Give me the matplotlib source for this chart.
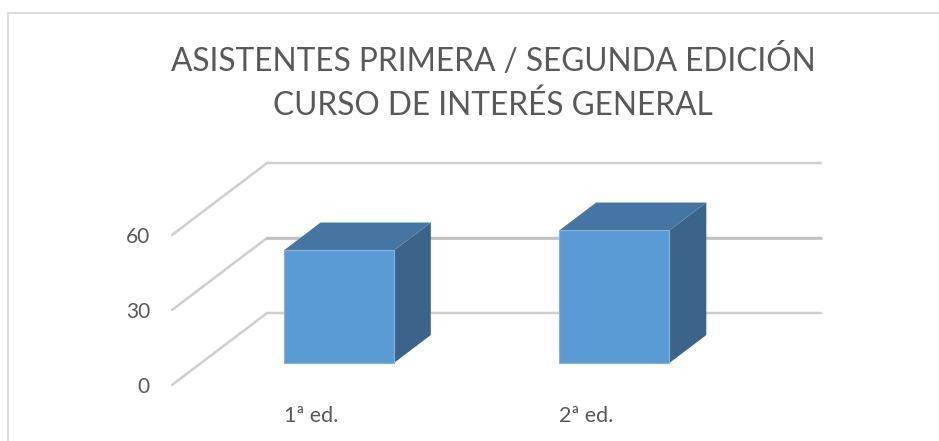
import matplotlib
matplotlib.use("Agg")
import matplotlib.pyplot as plt
from matplotlib.patches import Polygon

W, H = 939, 441

categories = ["1ª ed.", "2ª ed."]
values = [45, 53]
y_ticks = [0, 30, 60]
title = "ASISTENTES PRIMERA / SEGUNDA EDICIÓN\nCURSO DE INTERÉS GENERAL"

BAR_W = 0.4
DEPTH_X = 0.345   # x shift of the back wall, data units
DEPTH_Y = 28.8    # y shift of the back wall, data units
D0, D1 = 0.306, 0.694  # bar front and back, as a share of the depth
GRID_RIGHT = 1.51


def proj(x, y, d):
    return (x + d * DEPTH_X, y + d * DEPTH_Y)


plt.rcParams['font.family'] = ['Lato', 'DejaVu Sans']

fig = plt.figure(figsize=(W / 100, H / 100), dpi=100)
# front plane of the box, the walls hang out of it
ax = fig.add_axes([172 / W, 1 - 385 / H, 551 / W, 150 / H])
ax.set_xlim(-0.5, 1.5)
ax.set_ylim(0, 60)
ax.axis("off")

for v in y_ticks:
    pts = [proj(-0.5, v, 0), proj(-0.5, v, 1), proj(GRID_RIGHT, v, 1)]
    xs, ys = zip(*pts)
    ax.plot(xs, ys, color="#cfcfcf", lw=1.8, clip_on=False, zorder=1,
            solid_capstyle="round", solid_joinstyle="miter")
    ax.annotate(str(v), (-0.5, v), xytext=(-22, -2), textcoords="offset pixels", ha="right", va="center",
                fontsize=15, color="#595959")

# middle back line looks a bit darker in the picture
xs, ys = zip(proj(-0.5, 30, 1), proj(GRID_RIGHT, 30, 1))
ax.plot(xs, ys, color="#bfbfbf", lw=1.8, clip_on=False, zorder=1)

for i, v in enumerate(values):
    l, r = i - BAR_W / 2, i + BAR_W / 2
    front = [proj(l, 0, D0), proj(r, 0, D0), proj(r, v, D0), proj(l, v, D0)]
    top = [proj(l, v, D0), proj(r, v, D0), proj(r, v, D1), proj(l, v, D1)]
    side = [proj(r, 0, D0), proj(r, 0, D1), proj(r, v, D1), proj(r, v, D0)]
    ax.add_patch(Polygon(side, closed=True, fc="#3a6489", ec="none", clip_on=False, zorder=3))
    ax.add_patch(Polygon(top, closed=True, fc="#4575a3", ec="none", clip_on=False, zorder=3))
    ax.add_patch(Polygon(front, closed=True, fc="#5b9bd5", ec="#8ab0d2", lw=0.8, clip_on=False, zorder=4))
    ax.annotate(categories[i], proj(l, 0, D0), xytext=(0, -53), textcoords="offset pixels", ha="left",
                va="center", fontsize=15.5, color="#595959")

fig.text(493 / W, 1 - 82.5 / H, title, ha="center", va="center", fontsize=22.8, color="#595959", linespacing=1.52)

# chart frame, cropped at the right and bottom
fig.add_artist(plt.Line2D([8 / W, 8 / W, 1], [0, 1 - 13 / H, 1 - 13 / H], color="#dedede", lw=1.5,
                          solid_joinstyle="miter"))

fig.savefig("out.png", dpi=100)
